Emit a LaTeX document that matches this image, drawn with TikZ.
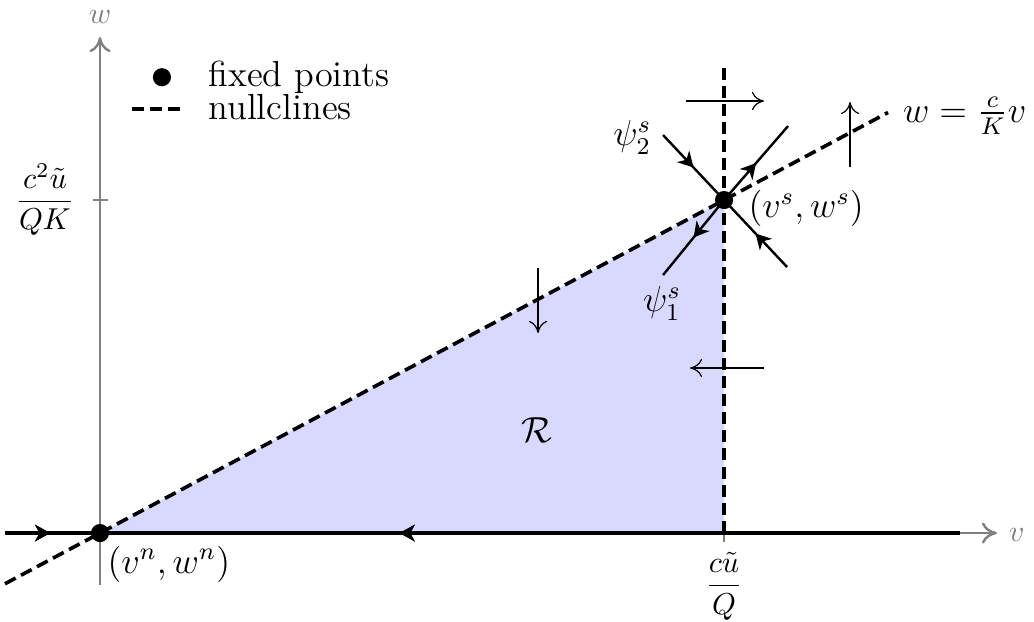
\documentclass[tikz,border=0pt]{standalone}
\usepackage{amsmath,amssymb}
\usetikzlibrary{positioning,arrows.meta,decorations.markings}

\begin{document}
\begin{tikzpicture}
    \tikzset{
      axis/.style = {thick, draw=gray, -{To[length=5pt,width=7pt]}},
      axislabel/.style = {text=gray},
      nullcline/.style = {very thick, dash pattern=on 4pt off 2pt},
      fixedpt/.style = {circle, fill=black, inner sep=0pt, minimum size=6pt},
      flow/.style = {thin, -{To[length=4pt,width=6pt]}},
      manifold/.style = {thick},
      tickmark/.style = {thick, draw=gray},
      biglabel/.style = {font=\large},
      markfwd/.style = {postaction={decorate}, decoration={markings, mark=at position #1 with {\arrow{Stealth[length=5pt,width=5.5pt,inset=1.5pt]}}}},
      markback/.style = {postaction={decorate}, decoration={markings, mark=at position #1 with {\arrow{Stealth[length=5pt,width=5.5pt,inset=1.5pt,reversed]}}}}
    }
    \useasboundingbox (-1.163,-1.023) rectangle (10.860,6.198);

    \coordinate (pt_n) at (0,0);
    \coordinate (pt_s) at (7.256,3.872);
    \coordinate (foot_s) at (7.256,0);
    \coordinate (top_s) at (7.256,5.477);
    \coordinate (null_left) at (-1.105,-0.590);
    \coordinate (null_right) at (9.163,4.890);
    \coordinate (v_start) at (-1.105,0);
    \coordinate (v_end) at (10.43,0);
    \coordinate (line_end) at (10.0,0);
    \coordinate (w_start) at (0,-0.605);
    \coordinate (w_end) at (0,5.767);
    \coordinate[above left=0.756cm and 0.709cm of pt_s.center] (psi2_a);
    \coordinate[below right=0.779cm and 0.733cm of pt_s.center] (psi2_b);
    \coordinate[above right=0.860cm and 0.744cm of pt_s.center] (psi1_a);
    \coordinate[below left=0.872cm and 0.709cm of pt_s.center] (psi1_b);

    \fill[blue!15] (pt_n) -- (pt_s) -- (foot_s) -- cycle;

    \draw[axis] (v_start) -- (v_end);
    \draw[axis] (w_start) -- (w_end);
    \draw[tickmark] (-0.087,3.872) -- (0.087,3.872);
    \draw[tickmark] (7.256,-0.1) -- (7.256,0.087);
    \node[axislabel] (v_lab) at (10.66,-0.02) {$v$};
    \node[axislabel] (w_lab) at (0,6.0) {$w$};

    \draw[very thick, markfwd=0.0473, markback=0.429] (v_start) -- (line_end);

    \draw[nullcline] (foot_s) -- (top_s);
    \draw[nullcline] (null_left) -- (null_right);

    \draw[manifold, markfwd=0.5] (psi2_a) -- (pt_s);
    \draw[manifold, markfwd=0.5] (psi2_b) -- (pt_s);
    \draw[manifold, markfwd=0.5] (pt_s) -- (psi1_a);
    \draw[manifold, markfwd=0.5] (pt_s) -- (psi1_b);

    \draw[flow] (6.814,5.023) -- (7.721,5.023);
    \draw[flow] (8.721,4.256) -- (8.721,5.012);
    \draw[flow] (5.093,3.081) -- (5.093,2.326);
    \draw[flow] (7.721,1.919) -- (6.86,1.919);

    \node[fixedpt] (fixed_n) at (pt_n) {};
    \node[fixedpt] (fixed_s) at (pt_s) {};

    \node[biglabel, anchor=west, inner sep=0pt] (vn_lab) at (0.08,-0.36) {$(v^n,w^n)$};
    \node[biglabel, anchor=west, inner sep=0pt] (vs_lab) at (7.535,3.77) {$(v^s,w^s)$};
    \node[biglabel] (psi2_lab) at (6.19,4.60) {$\psi_2^s$};
    \node[biglabel] (psi1_lab) at (6.535,2.674) {$\psi_1^s$};
    \node (vtick_lab) at (7.256,-0.62) {$\dfrac{c\tilde{u}}{Q}$};
    \node (wtick_lab) at (-0.64,3.872) {$\dfrac{c^2\tilde{u}}{QK}$};
    \node[biglabel, anchor=west, inner sep=0pt] (null_lab) at (9.33,4.85) {$w=\frac{c}{K}v$};
    \node[biglabel] (region_lab) at (5.08,1.2) {$\mathcal{R}$};

    \node[fixedpt] (leg_dot) at (0.72,5.30) {};
    \node[biglabel, anchor=west, inner sep=0pt] (leg_fixed) at (1.256,5.30) {fixed points};
    \draw[nullcline] (0.372,4.93) -- (0.988,4.93);
    \node[biglabel, anchor=west, inner sep=0pt] (leg_null) at (1.256,4.95) {nullclines};
\end{tikzpicture}
\end{document}
